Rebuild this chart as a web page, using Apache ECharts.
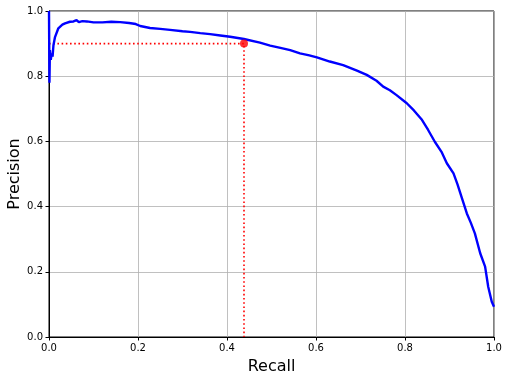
<!DOCTYPE html>
<html>
<head>
<meta charset="utf-8">
<script src="https://cdn.jsdelivr.net/npm/echarts@6/dist/echarts.min.js"></script>
<style>
html,body{margin:0;padding:0;background:#fff;}
#chart{width:510px;height:380px;}
</style>
</head>
<body>
<div id="chart"></div>
<script>
var recall = [0,0.001,0.002,0.004,0.006,0.008,0.01,0.0135,0.021,0.03,0.036,0.047,0.055,0.062,0.067,0.075,0.085,0.1,0.12,0.14,0.16,0.18,0.195,0.205,0.227,0.25,0.272,0.3,0.317,0.34,0.362,0.385,0.407,0.438,0.474,0.497,0.52,0.542,0.564,0.585,0.602,0.631,0.661,0.692,0.714,0.736,0.751,0.766,0.781,0.804,0.82,0.837,0.852,0.867,0.882,0.894,0.909,0.918,0.927,0.939,0.948,0.957,0.969,0.98,0.987,0.995,1.0];
var precision = [1.0,0.78,0.88,0.85,0.87,0.86,0.895,0.92,0.947,0.958,0.962,0.967,0.968,0.972,0.966,0.969,0.968,0.965,0.965,0.967,0.966,0.963,0.96,0.954,0.948,0.945,0.942,0.938,0.936,0.932,0.929,0.925,0.921,0.914,0.903,0.894,0.887,0.88,0.87,0.864,0.858,0.845,0.834,0.817,0.804,0.786,0.768,0.757,0.742,0.717,0.695,0.668,0.635,0.599,0.568,0.533,0.502,0.468,0.43,0.379,0.35,0.318,0.257,0.216,0.154,0.108,0.093];
var thresholdRecall = 0.4382;
var thresholdPrecision = 0.9;
var tickValues = [0, 0.2, 0.4, 0.6, 0.8, 1.0];

var curve = recall.map(function(r, i){ return [r, precision[i]]; });
var guide = [[0, thresholdPrecision],[thresholdRecall, thresholdPrecision],[thresholdRecall, 0]];

var font = 'DejaVu Sans';
function axisCommon(name, gap){
  return {
    type: 'value', min: 0, max: 1, interval: 0.2,
    name: name, nameLocation: 'middle', nameGap: gap, nameMoveOverlap: false,
    nameTextStyle: {fontFamily: font, fontSize: 16, color: '#000'},
    axisLine: {show: true, lineStyle: {color: '#000', width: 1}},
    axisTick: {show: true, length: 3.5, lineStyle: {color: '#000', width: 1}},
    axisLabel: {fontFamily: font, fontSize: 10, color: '#000', margin: 6,
      formatter: function(v){ return v.toFixed(1); }},
    splitLine: {show: true, lineStyle: {color: '#b0b0b0', width: 0.8}}
  };
}
var chart = echarts.init(document.getElementById('chart'), null, {renderer: 'canvas'});
chart.setOption({
  animation: false,
  backgroundColor: '#fff',
  grid: {left: 49, right: 16, top: 11, bottom: 43, containLabel: false, outerBoundsMode: 'none',
    show: true, borderColor: '#000', borderWidth: 1, backgroundColor: 'transparent'},
  xAxis: axisCommon('Recall', 22),
  yAxis: axisCommon('Precision', 26),
  series: [
    {type: 'line', data: curve, showSymbol: false, symbol: 'none', clip: true,
     lineStyle: {color: '#0000ff', width: 2.4}, z: 3},
    {type: 'line', data: guide, showSymbol: false, symbol: 'none',
     lineStyle: {color: '#ff0000', width: 1.6, type: [1.6, 2.6]}, z: 2},
    {type: 'scatter', data: [[thresholdRecall, thresholdPrecision]], symbol: 'circle', symbolSize: 8,
     itemStyle: {color: '#ff0000'}, z: 4}
  ]
});
</script>
</body>
</html>
